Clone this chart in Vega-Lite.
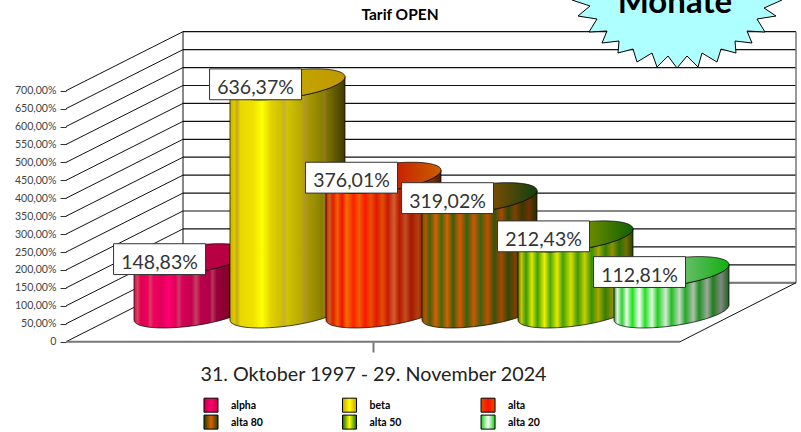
{
"$schema":"https://vega.github.io/schema/vega-lite/v6.json",
"width":801,"height":432,"padding":0,"autosize":{"type":"none"},"background":"white",
"config":{"view":{"stroke":null},"font":"Lato"},
"datasets":{
"bars":[
{"name":"alpha","slot":0,"value":148.83},
{"name":"beta","slot":1,"value":636.37},
{"name":"alta","slot":2,"value":376.01},
{"name":"alta 80","slot":3,"value":319.02},
{"name":"alta 50","slot":4,"value":212.43},
{"name":"alta 20","slot":5,"value":112.81}],
"ticks":[{"v":0},{"v":50},{"v":100},{"v":150},{"v":200},{"v":250},{"v":300},{"v":350},{"v":400},{"v":450},{"v":500},{"v":550},{"v":600},{"v":650},{"v":700}],
"notes":[{"label":"Monate"}],
"heading":[{"label":"Tarif OPEN"}]
},
"encoding":{
"x":{"type":"quantitative","scale":{"domain":[-1.99479,6.34896],"range":[0,801],"nice":false,"zero":false},
 "axis":{"orient":"bottom","offset":-90,"values":[1.89],"domain":false,"grid":false,"labels":false,"ticks":true,"tickSize":10,"tickColor":"#777","tickWidth":2,"title":"31. Oktober 1997 - 29. November 2024","titleFont":"Lato","titleFontSize":19.7,"titleFontWeight":"normal","titleColor":"#222","titleX":373,"titleY":38,"titleAlign":"center","titleBaseline":"alphabetic"}},
"y":{"type":"quantitative","scale":{"domain":[-251.8,952.9],"range":[432,0],"nice":false,"zero":false},
 "axis":{"orient":"left","offset":-66,"values":[0,50,100,150,200,250,300,350,400,450,500,550,600,650,700],"domain":false,"grid":false,"title":null,"tickSize":6,"tickColor":"#333","labelFont":"Lato","labelFontSize":10.6,"labelColor":"#444","labelPadding":4,"labelExpr":"datum.value==0?'0':replace(format(datum.value,'.2f'),'.',',')+'%'"}}
},
"layer":[
{"data":{"name":"ticks"},"transform":[{"calculate":"datum.v+164.5","as":"back"}],"layer":[
 {"mark":{"type":"rule","stroke":"#111","strokeWidth":1},"encoding":{"x":{"datum":-1.307},"x2":{"datum":-0.0885},"y":{"field":"v"},"y2":{"field":"back"}}},
 {"mark":{"type":"rule","stroke":"#111","strokeWidth":1.2},"encoding":{"x":{"datum":-0.0885},"x2":{"datum":6.297},"y":{"field":"back"}}}
]},
{"data":{"name":"notes"},"layer":[
 {"mark":{"type":"rule","stroke":"#111","strokeWidth":1},"encoding":{"x":{"datum":-0.0885},"y":{"datum":164.5},"y2":{"datum":864.5}}},
 {"mark":{"type":"rule","stroke":"#777","strokeWidth":1.5},"encoding":{"x":{"datum":6.297},"y":{"datum":164.5},"y2":{"datum":864.5}}},
 {"mark":{"type":"rule","stroke":"#777","strokeWidth":2},"encoding":{"x":{"datum":-1.307},"x2":{"datum":5.089},"y":{"datum":0}}},
 {"mark":{"type":"rule","stroke":"#777","strokeWidth":2},"encoding":{"x":{"datum":-0.0885},"x2":{"datum":6.297},"y":{"datum":164.5}}},
 {"mark":{"type":"rule","stroke":"#111","strokeWidth":1},"encoding":{"x":{"datum":5.089},"x2":{"datum":6.297},"y":{"datum":0},"y2":{"datum":164.5}}}
]},
{"data":{"name":"bars"},"transform":[
 {"calculate":"[0,6,12,18,24,30,36,42,48,54,60,66,72,78,84,90,96,102,108,114,120,126,132,138,144,150,156,162,168,174,180]","as":"angles"},
 {"flatten":["angles"],"as":["th"]},
 {"calculate":"cos(datum.th*PI/180)","as":"u"},
 {"calculate":"sin(datum.th*PI/180)","as":"s"},
 {"calculate":"datum.slot+0.599*datum.u","as":"px"},
 {"calculate":"81.4+21*datum.u-37.7*datum.s","as":"baseFront"},
 {"calculate":"datum.baseFront+datum.value","as":"topFront"},
 {"calculate":"81.4+21*datum.u+37.7*datum.s+datum.value","as":"topBack"}
],"layer":[
 {"transform":[{"filter":"datum.slot==0"}],"layer":[
  {"mark":{"type":"area","stroke":"#000","strokeWidth":0.7,"fill":{"gradient":"linear","x1":0,"x2":1,"y1":0,"y2":0,"stops":[
   {"offset":0,"color":"#d01048"},{"offset":0.03,"color":"#d84060"},{"offset":0.06,"color":"#e00050"},{"offset":0.12,"color":"#f00060"},{"offset":0.14,"color":"#d84060"},{"offset":0.17,"color":"#f00060"},{"offset":0.24,"color":"#e00058"},{"offset":0.3,"color":"#ff0070"},{"offset":0.36,"color":"#e00058"},{"offset":0.39,"color":"#d03868"},{"offset":0.42,"color":"#d80058"},{"offset":0.5,"color":"#c00050"},{"offset":0.54,"color":"#c84060"},{"offset":0.58,"color":"#b80048"},{"offset":0.66,"color":"#b00048"},{"offset":0.68,"color":"#b83860"},{"offset":0.72,"color":"#980038"},{"offset":0.8,"color":"#880030"},{"offset":1,"color":"#600028"}]}},
   "encoding":{"x":{"field":"px"},"y":{"field":"topFront"},"y2":{"field":"baseFront"}}},
  {"mark":{"type":"area","stroke":"#000","strokeWidth":0.7,"fill":{"gradient":"linear","x1":0,"x2":1,"y1":0,"y2":0,"stops":[{"offset":0,"color":"#cc0048"},{"offset":1,"color":"#b00040"}]}},
   "encoding":{"x":{"field":"px"},"y":{"field":"topBack"},"y2":{"field":"topFront"}}}
 ]},
 {"transform":[{"filter":"datum.slot==1"}],"layer":[
  {"mark":{"type":"area","stroke":"#000","strokeWidth":0.7,"fill":{"gradient":"linear","x1":0,"x2":1,"y1":0,"y2":0,"stops":[
   {"offset":0,"color":"#c8b400"},{"offset":0.04,"color":"#e0c800"},{"offset":0.06,"color":"#c0a820"},{"offset":0.09,"color":"#e8d800"},{"offset":0.2,"color":"#f0e000"},{"offset":0.28,"color":"#ffff00"},{"offset":0.36,"color":"#e0d000"},{"offset":0.44,"color":"#d0c000"},{"offset":0.47,"color":"#c8b030"},{"offset":0.5,"color":"#d0c400"},{"offset":0.62,"color":"#b8a800"},{"offset":0.65,"color":"#b09828"},{"offset":0.68,"color":"#a89800"},{"offset":0.8,"color":"#888000"},{"offset":0.82,"color":"#987820"},{"offset":0.85,"color":"#787000"},{"offset":0.94,"color":"#585000"},{"offset":1,"color":"#403800"}]}},
   "encoding":{"x":{"field":"px"},"y":{"field":"topFront"},"y2":{"field":"baseFront"}}},
  {"mark":{"type":"area","stroke":"#000","strokeWidth":0.7,"fill":{"gradient":"linear","x1":0,"x2":1,"y1":0,"y2":0,"stops":[{"offset":0,"color":"#c8b800"},{"offset":1,"color":"#c09800"}]}},
   "encoding":{"x":{"field":"px"},"y":{"field":"topBack"},"y2":{"field":"topFront"}}}
 ]},
 {"transform":[{"filter":"datum.slot==2"}],"layer":[
  {"mark":{"type":"area","stroke":"#000","strokeWidth":0.7,"fill":{"gradient":"linear","x1":0,"x2":1,"y1":0,"y2":0,"stops":[
   {"offset":0,"color":"#d02000"},{"offset":0.03,"color":"#c86020"},{"offset":0.06,"color":"#e02000"},{"offset":0.1,"color":"#f06000"},{"offset":0.14,"color":"#f01000"},{"offset":0.18,"color":"#f07000"},{"offset":0.24,"color":"#ff2000"},{"offset":0.29,"color":"#f06000"},{"offset":0.34,"color":"#f81800"},{"offset":0.39,"color":"#e85000"},{"offset":0.44,"color":"#e01800"},{"offset":0.49,"color":"#e05000"},{"offset":0.54,"color":"#c81800"},{"offset":0.59,"color":"#d06030"},{"offset":0.64,"color":"#b81800"},{"offset":0.69,"color":"#c05020"},{"offset":0.74,"color":"#a81800"},{"offset":0.8,"color":"#b04010"},{"offset":0.86,"color":"#901000"},{"offset":0.92,"color":"#883000"},{"offset":1,"color":"#501800"}]}},
   "encoding":{"x":{"field":"px"},"y":{"field":"topFront"},"y2":{"field":"baseFront"}}},
  {"mark":{"type":"area","stroke":"#000","strokeWidth":0.7,"fill":{"gradient":"linear","x1":0,"x2":1,"y1":0,"y2":0,"stops":[{"offset":0,"color":"#e01000"},{"offset":0.6,"color":"#c82000"},{"offset":1,"color":"#c86000"}]}},
   "encoding":{"x":{"field":"px"},"y":{"field":"topBack"},"y2":{"field":"topFront"}}}
 ]},
 {"transform":[{"filter":"datum.slot==3"}],"layer":[
  {"mark":{"type":"area","stroke":"#000","strokeWidth":0.7,"fill":{"gradient":"linear","x1":0,"x2":1,"y1":0,"y2":0,"stops":[
   {"offset":0,"color":"#805000"},{"offset":0.03,"color":"#b05800"},{"offset":0.07,"color":"#486010"},{"offset":0.12,"color":"#d86000"},{"offset":0.17,"color":"#406810"},{"offset":0.22,"color":"#d86000"},{"offset":0.27,"color":"#386010"},{"offset":0.33,"color":"#d85800"},{"offset":0.39,"color":"#386010"},{"offset":0.45,"color":"#c85800"},{"offset":0.51,"color":"#406010"},{"offset":0.57,"color":"#c05000"},{"offset":0.63,"color":"#385010"},{"offset":0.69,"color":"#a84800"},{"offset":0.75,"color":"#304808"},{"offset":0.81,"color":"#804000"},{"offset":0.87,"color":"#383800"},{"offset":0.93,"color":"#703000"},{"offset":1,"color":"#203000"}]}},
   "encoding":{"x":{"field":"px"},"y":{"field":"topFront"},"y2":{"field":"baseFront"}}},
  {"mark":{"type":"area","stroke":"#000","strokeWidth":0.7,"fill":{"gradient":"linear","x1":0,"x2":1,"y1":0,"y2":0,"stops":[{"offset":0,"color":"#c86000"},{"offset":0.5,"color":"#985000"},{"offset":1,"color":"#104010"}]}},
   "encoding":{"x":{"field":"px"},"y":{"field":"topBack"},"y2":{"field":"topFront"}}}
 ]},
 {"transform":[{"filter":"datum.slot==4"}],"layer":[
  {"mark":{"type":"area","stroke":"#000","strokeWidth":0.7,"fill":{"gradient":"linear","x1":0,"x2":1,"y1":0,"y2":0,"stops":[
   {"offset":0,"color":"#607000"},{"offset":0.03,"color":"#c8c800"},{"offset":0.07,"color":"#389808"},{"offset":0.12,"color":"#e0e800"},{"offset":0.17,"color":"#40a008"},{"offset":0.23,"color":"#f0f000"},{"offset":0.28,"color":"#48a808"},{"offset":0.34,"color":"#e8e800"},{"offset":0.39,"color":"#40a008"},{"offset":0.46,"color":"#d8e000"},{"offset":0.52,"color":"#409808"},{"offset":0.58,"color":"#c8d000"},{"offset":0.64,"color":"#389008"},{"offset":0.7,"color":"#a8a800"},{"offset":0.76,"color":"#308008"},{"offset":0.82,"color":"#909000"},{"offset":0.88,"color":"#287008"},{"offset":0.94,"color":"#707000"},{"offset":1,"color":"#284000"}]}},
   "encoding":{"x":{"field":"px"},"y":{"field":"topFront"},"y2":{"field":"baseFront"}}},
  {"mark":{"type":"area","stroke":"#000","strokeWidth":0.7,"fill":{"gradient":"linear","x1":0,"x2":1,"y1":0,"y2":0,"stops":[{"offset":0,"color":"#a8a800"},{"offset":0.5,"color":"#889800"},{"offset":1,"color":"#106000"}]}},
   "encoding":{"x":{"field":"px"},"y":{"field":"topBack"},"y2":{"field":"topFront"}}}
 ]},
 {"transform":[{"filter":"datum.slot==5"}],"layer":[
  {"mark":{"type":"area","stroke":"#000","strokeWidth":0.7,"fill":{"gradient":"linear","x1":0,"x2":1,"y1":0,"y2":0,"stops":[
   {"offset":0,"color":"#408840"},{"offset":0.03,"color":"#e0f8e0"},{"offset":0.07,"color":"#30d030"},{"offset":0.11,"color":"#e8ffe8"},{"offset":0.16,"color":"#20e020"},{"offset":0.22,"color":"#ffffff"},{"offset":0.27,"color":"#20e020"},{"offset":0.33,"color":"#e0f8e0"},{"offset":0.38,"color":"#20d020"},{"offset":0.45,"color":"#d8e8d8"},{"offset":0.5,"color":"#20c020"},{"offset":0.57,"color":"#c8d8c8"},{"offset":0.62,"color":"#20a820"},{"offset":0.69,"color":"#b0c0b0"},{"offset":0.74,"color":"#209020"},{"offset":0.81,"color":"#a0a8a0"},{"offset":0.86,"color":"#208020"},{"offset":0.93,"color":"#808880"},{"offset":1,"color":"#206020"}]}},
   "encoding":{"x":{"field":"px"},"y":{"field":"topFront"},"y2":{"field":"baseFront"}}},
  {"mark":{"type":"area","stroke":"#000","strokeWidth":0.7,"fill":{"gradient":"linear","x1":0,"x2":1,"y1":0,"y2":0,"stops":[{"offset":0,"color":"#a0d0a0"},{"offset":0.5,"color":"#80c080"},{"offset":1,"color":"#10b010"}]}},
   "encoding":{"x":{"field":"px"},"y":{"field":"topBack"},"y2":{"field":"topFront"}}}
 ]}
]},
{"data":{"name":"bars"},"transform":[
 {"calculate":"datum.slot-0.333","as":"cx"},
 {"calculate":"datum.cx-0.479","as":"x0"},
 {"calculate":"datum.cx+0.479","as":"x1"},
 {"calculate":"81.4+datum.value","as":"cy"},
 {"calculate":"datum.cy-43","as":"y0"},
 {"calculate":"datum.cy+43","as":"y1"},
 {"calculate":"datum.cy-27","as":"ty"},
 {"calculate":"replace(format(datum.value,'.2f'),'.',',')+'%'","as":"label"}
],"layer":[
 {"mark":{"type":"rect","fill":"#fff","stroke":"#333","strokeWidth":1},"encoding":{"x":{"field":"x0"},"x2":{"field":"x1"},"y":{"field":"y0"},"y2":{"field":"y1"}}},
 {"mark":{"type":"text","font":"Lato","fontSize":19.5,"color":"#333","align":"center","baseline":"alphabetic"},"encoding":{"x":{"field":"cx"},"y":{"field":"ty"},"text":{"field":"label"}}}
]},
{"data":{"name":"bars"},"transform":[
 {"calculate":"0.203+1.443*(datum.slot%3)","as":"sx"},
 {"calculate":"0.411+1.443*(datum.slot%3)","as":"tx"},
 {"calculate":"-177-47.2*floor(datum.slot/3)","as":"sy"},
 {"calculate":"datum.sy-11","as":"ty"}
],"layer":[
 {"transform":[{"filter":"datum.slot==0"}],"mark":{"type":"point","shape":"square","size":196,"filled":true,"opacity":1,"stroke":"#000","strokeWidth":1,"fill":{"gradient":"linear","x1":0,"x2":1,"y1":0,"y2":0,"stops":[{"offset":0,"color":"#c00048"},{"offset":0.5,"color":"#ff0070"},{"offset":1,"color":"#c00048"}]}},"encoding":{"x":{"field":"sx"},"y":{"field":"sy"}}},
 {"transform":[{"filter":"datum.slot==1"}],"mark":{"type":"point","shape":"square","size":196,"filled":true,"opacity":1,"stroke":"#000","strokeWidth":1,"fill":{"gradient":"linear","x1":0,"x2":1,"y1":0,"y2":0,"stops":[{"offset":0,"color":"#d0a000"},{"offset":0.5,"color":"#ffff00"},{"offset":1,"color":"#d0a000"}]}},"encoding":{"x":{"field":"sx"},"y":{"field":"sy"}}},
 {"transform":[{"filter":"datum.slot==2"}],"mark":{"type":"point","shape":"square","size":196,"filled":true,"opacity":1,"stroke":"#000","strokeWidth":1,"fill":{"gradient":"linear","x1":0,"x2":1,"y1":0,"y2":0,"stops":[{"offset":0,"color":"#e05000"},{"offset":0.5,"color":"#ff1000"},{"offset":1,"color":"#e05000"}]}},"encoding":{"x":{"field":"sx"},"y":{"field":"sy"}}},
 {"transform":[{"filter":"datum.slot==3"}],"mark":{"type":"point","shape":"square","size":196,"filled":true,"opacity":1,"stroke":"#000","strokeWidth":1,"fill":{"gradient":"linear","x1":0,"x2":1,"y1":0,"y2":0,"stops":[{"offset":0,"color":"#204000"},{"offset":0.5,"color":"#e06000"},{"offset":1,"color":"#204000"}]}},"encoding":{"x":{"field":"sx"},"y":{"field":"sy"}}},
 {"transform":[{"filter":"datum.slot==4"}],"mark":{"type":"point","shape":"square","size":196,"filled":true,"opacity":1,"stroke":"#000","strokeWidth":1,"fill":{"gradient":"linear","x1":0,"x2":1,"y1":0,"y2":0,"stops":[{"offset":0,"color":"#107000"},{"offset":0.5,"color":"#ffff00"},{"offset":1,"color":"#107000"}]}},"encoding":{"x":{"field":"sx"},"y":{"field":"sy"}}},
 {"transform":[{"filter":"datum.slot==5"}],"mark":{"type":"point","shape":"square","size":196,"filled":true,"opacity":1,"stroke":"#000","strokeWidth":1,"fill":{"gradient":"linear","x1":0,"x2":1,"y1":0,"y2":0,"stops":[{"offset":0,"color":"#10d010"},{"offset":0.5,"color":"#ffffff"},{"offset":1,"color":"#10d010"}]}},"encoding":{"x":{"field":"sx"},"y":{"field":"sy"}}},
 {"mark":{"type":"text","font":"Lato","fontSize":10.5,"fontWeight":"bold","color":"#000","align":"left","baseline":"alphabetic"},"encoding":{"x":{"field":"tx"},"y":{"field":"ty"},"text":{"field":"name"}}}
]},
{"data":{"name":"notes"},"layer":[
 {"mark":{"type":"point","filled":true,"opacity":1,"fill":"#aeffff","stroke":"#000","strokeWidth":1,"size":40000,"shape":"M-1.05,-0.3L-1.05,0L-0.87,0.06L-0.99,0.16L-0.80,0.19L-0.88,0.32L-0.70,0.31L-0.75,0.43L-0.58,0.41L-0.59,0.53L-0.44,0.49L-0.40,0.62L-0.25,0.53L-0.20,0.67L-0.09,0.56L0,0.68L0.10,0.56L0.21,0.67L0.25,0.53L0.40,0.62L0.44,0.49L0.59,0.53L0.58,0.41L0.75,0.43L0.70,0.31L0.88,0.32L0.80,0.19L0.99,0.16L0.87,0.08L1.05,0L1.05,-0.3Z"},"encoding":{"x":{"datum":5.0573},"y":{"datum":952.9}}},
 {"mark":{"type":"text","font":"Lato","fontSize":33,"fontWeight":"bold","color":"#000","align":"center","baseline":"alphabetic"},"encoding":{"x":{"datum":5.036},"y":{"datum":916.6},"text":{"field":"label"}}}
]},
{"data":{"name":"heading"},"mark":{"type":"text","font":"Lato","fontSize":15.5,"fontWeight":"bold","color":"#000","align":"center","baseline":"alphabetic"},"encoding":{"x":{"datum":2.172},"y":{"datum":897},"text":{"field":"label"}}}
]
}
